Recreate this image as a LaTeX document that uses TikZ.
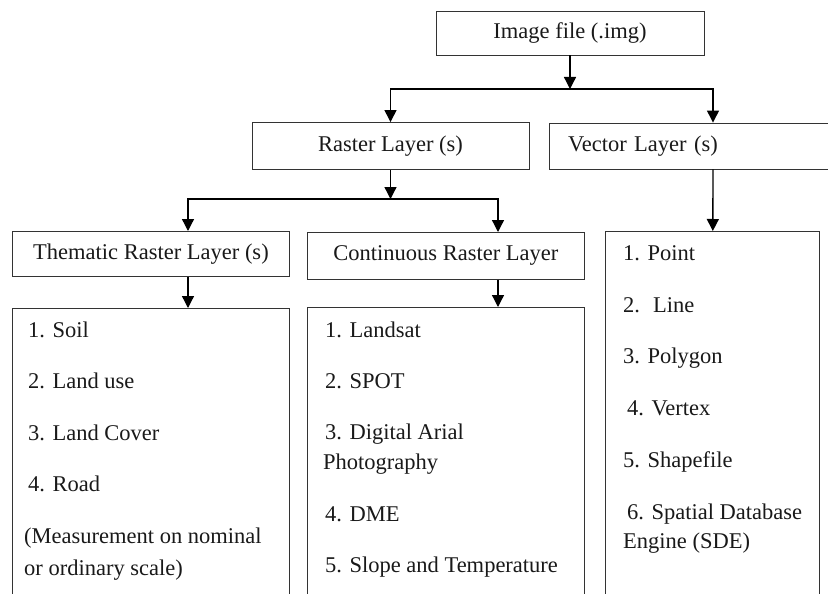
\documentclass[tikz,border=0pt]{standalone}
\usepackage{fontspec}
\setmainfont{Liberation Serif}
\usetikzlibrary{arrows.meta}

\begin{document}
\begin{tikzpicture}[
    x=1pt, y=-1pt,
    box/.style={rectangle, draw=black!80, line width=0.9pt, inner sep=0pt, font=\fontsize{22.5}{27}\selectfont, text=black!90},
    listbox/.style={box, anchor=north west, minimum width=277pt, minimum height=300pt},
    item/.style={anchor=base west, inner sep=0pt, font=\fontsize{22.5}{27}\selectfont, text=black!90},
    arrow/.style={-{Triangle[length=12pt, width=12pt]}, line width=1.3pt},
    link/.style={line width=1.3pt, line cap=rect}
]
\useasboundingbox (0,0) rectangle (828,594);
\clip (0,0) rectangle (828,594);

% Top level
\node[box, minimum width=268pt, minimum height=44pt] (img) at (570,33) {Image file (.img)};

% Layers
\node[box, minimum width=277pt, minimum height=47pt] (raster) at (390.5,146) {Raster Layer (s)};
\node[box, minimum width=328pt, minimum height=46pt, text width=290pt, align=left, inner xsep=19pt] (vector) at (713,146) {Vector Layer (s)};

% Raster kinds
\node[box, anchor=north west, minimum width=277pt, minimum height=45pt] (them) at (12,231) {Thematic Raster Layer (s)};
\node[box, anchor=north west, minimum width=277pt, minimum height=47pt] (cont) at (307,232) {Continuous Raster Layer};

% Lists
\node[listbox] (themlist) at (12,308) {};
\node[listbox] (contlist) at (307,307) {};
\node[listbox, minimum width=214pt, minimum height=370pt] (vlist) at (605,231) {};

% Thematic items
\node[item] (soil) at (28,337) {1. Soil};
\node[item] (landuse) at (28,388) {2. Land use};
\node[item] (landcover) at (28,440) {3. Land Cover};
\node[item] (road) at (28,491) {4. Road};
\node[item] (measure) at (24,543) {(Measurement on nominal};
\node[item] (measureb) at (24,575) {or ordinary scale)};

% Continuous items
\node[item] (landsat) at (325,337) {1. Landsat};
\node[item] (spot) at (325,388) {2. SPOT};
\node[item] (digital) at (325,439) {3. Digital Arial};
\node[item] (digitalb) at (323,469) {Photography};
\node[item] (dme) at (325,521) {4. DME};
\node[item] (slope) at (325,572) {5. Slope and Temperature};

% Vector items
\node[item] (point) at (623,260) {1. Point};
\node[item] (line) at (623,312) {2.~ Line};
\node[item] (polygon) at (623,363) {3. Polygon};
\node[item] (vertex) at (627,415) {4. Vertex};
\node[item] (shapefile) at (623,467) {5. Shapefile};
\node[item] (sde) at (627,519) {6. Spatial Database};
\node[item] (sdeb) at (623,548) {Engine (SDE)};

% Junctions
\coordinate (j1) at (570,89);
\coordinate (j2) at (390.5,199);
\coordinate (j2l) at (188,199);
\coordinate (j2r) at (498,199);

% Image file to layers
\draw[arrow] (img) -- (j1);
\draw[link] (j1 -| raster) -- (j1 -| vector);
\draw[arrow] (j1 -| raster) -- (raster);
\draw[arrow] (j1 -| vector) -- (vector);

% Raster to kinds
\draw[arrow] (raster) -- (j2);
\draw[link] (j2l) -- (j2r);
\draw[arrow] (j2l) -- (j2l |- them.north);
\draw[arrow] (j2r) -- (j2r |- cont.north);

% Kinds to lists
\draw[arrow] (them.south -| j2l) -- (themlist.north -| j2l);
\draw[arrow] (cont.south -| j2r) -- (contlist.north -| j2r);
\draw[arrow] (vector) -- (vlist);

\end{tikzpicture}
\end{document}
